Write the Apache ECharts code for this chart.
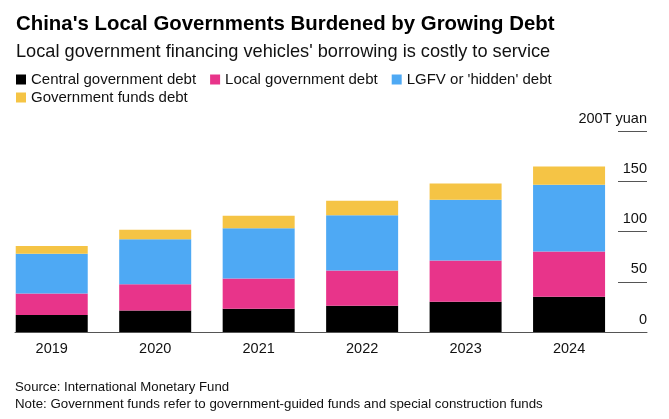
<!DOCTYPE html>
<html>
<head>
<meta charset="utf-8">
<style>
  html, body { margin: 0; padding: 0; background: #fff; }
  #chart { width: 669px; height: 419px; }
</style>
<script src="https://cdn.jsdelivr.net/npm/echarts@6/dist/echarts.min.js"></script>
</head>
<body>
<div id="chart"></div>
<script>
const years = ['2019', '2020', '2021', '2022', '2023', '2024'];
const centralDebt = [17.0, 21.5, 23.2, 26.2, 30.1, 35.1];
const localDebt = [21.3, 25.9, 30.1, 35.1, 41.1, 45.0];
const lgfvDebt = [39.6, 45.0, 50.0, 54.9, 60.3, 66.3];
const fundsDebt = [7.7, 9.3, 12.3, 14.3, 16.2, 18.2];
const seriesNames = ['Central government debt', 'Local government debt', "LGFV or 'hidden' debt", 'Government funds debt'];
const seriesColors = ['#000000', '#e8348a', '#4ea9f4', '#f5c445'];
const yTicks = { min: 0, max: 200, interval: 50 };

const FONT = '"Liberation Sans", Arial, Helvetica, sans-serif';
const chart = echarts.init(document.getElementById('chart'), null, { renderer: 'canvas' });

const values = [centralDebt, localDebt, lgfvDebt, fundsDebt];
const series = seriesNames.map((name, i) => ({
  name: name,
  type: 'bar',
  stack: 'debt',
  xAxisIndex: 0,
  yAxisIndex: 0,
  barWidth: 72,
  itemStyle: { color: seriesColors[i] },
  emphasis: { disabled: true },
  data: values[i]
}));

chart.setOption({
  animation: false,
  backgroundColor: '#ffffff',
  textStyle: { fontFamily: FONT },
  title: [
    {
      text: "China's Local Governments Burdened by Growing Debt",
      left: 11, top: 9,
      textStyle: { fontFamily: FONT, fontSize: 20.4, fontWeight: 'bold', color: '#000' }
    },
    {
      text: "Local government financing vehicles' borrowing is costly to service",
      left: 11, top: 38,
      textStyle: { fontFamily: FONT, fontSize: 18.2, fontWeight: 'normal', color: '#111' }
    },
    {
      text: 'Source: International Monetary Fund',
      left: 10, top: 376,
      textStyle: { fontFamily: FONT, fontSize: 13.2, fontWeight: 'normal', color: '#111' }
    },
    {
      text: 'Note: Government funds refer to government-guided funds and special construction funds',
      left: 10, top: 393,
      textStyle: { fontFamily: FONT, fontSize: 13.3, fontWeight: 'normal', color: '#111' }
    }
  ],
  legend: [
    {
      data: seriesNames.slice(0, 3),
      left: 11, top: 67,
      icon: 'rect', itemWidth: 10, itemHeight: 10, itemGap: 14,
      selectedMode: false,
      textStyle: { fontFamily: FONT, fontSize: 15, color: '#111' }
    },
    {
      data: seriesNames.slice(3),
      left: 11, top: 85,
      icon: 'rect', itemWidth: 10, itemHeight: 10, itemGap: 14,
      selectedMode: false,
      textStyle: { fontFamily: FONT, fontSize: 15, color: '#111' }
    }
  ],
  grid: [
    { left: -0.8, width: 621.6, top: 131, height: 201, containLabel: false },
    { left: 15, right: 22, top: 131, height: 201, containLabel: false },
    { left: 618, right: 22, top: 131, height: 201, containLabel: false }
  ],
  xAxis: [
    {
      type: 'category', gridIndex: 0, data: years,
      axisLine: { show: false }, axisTick: { show: false },
      axisLabel: { fontFamily: FONT, fontSize: 14.5, color: '#111', margin: 9 }
    },
    {
      type: 'value', gridIndex: 1, min: 0, max: 1,
      axisLine: { show: true, lineStyle: { color: '#555', width: 1 } },
      axisTick: { show: false }, axisLabel: { show: false }, splitLine: { show: false }
    },
    {
      type: 'value', gridIndex: 2, min: 0, max: 1, show: false
    }
  ],
  yAxis: [
    {
      type: 'value', gridIndex: 0, min: yTicks.min, max: yTicks.max, interval: yTicks.interval,
      show: false
    },
    {
      type: 'value', gridIndex: 1, min: yTicks.min, max: yTicks.max, interval: yTicks.interval,
      show: false
    },
    {
      type: 'value', gridIndex: 2, position: 'right',
      min: yTicks.min, max: yTicks.max, interval: yTicks.interval,
      axisLine: { show: false },
      axisTick: { show: false },
      splitLine: { show: true, lineStyle: { color: '#555', width: 1 } },
      axisLabel: {
        inside: true, margin: 0, verticalAlign: 'bottom', align: 'right',
        padding: [0, 0, 5, 0],
        fontFamily: FONT, fontSize: 14.5, color: '#111',
        formatter: v => (v === yTicks.max ? v + 'T yuan' : String(v))
      }
    }
  ],
  series: series
});
</script>
</body>
</html>
